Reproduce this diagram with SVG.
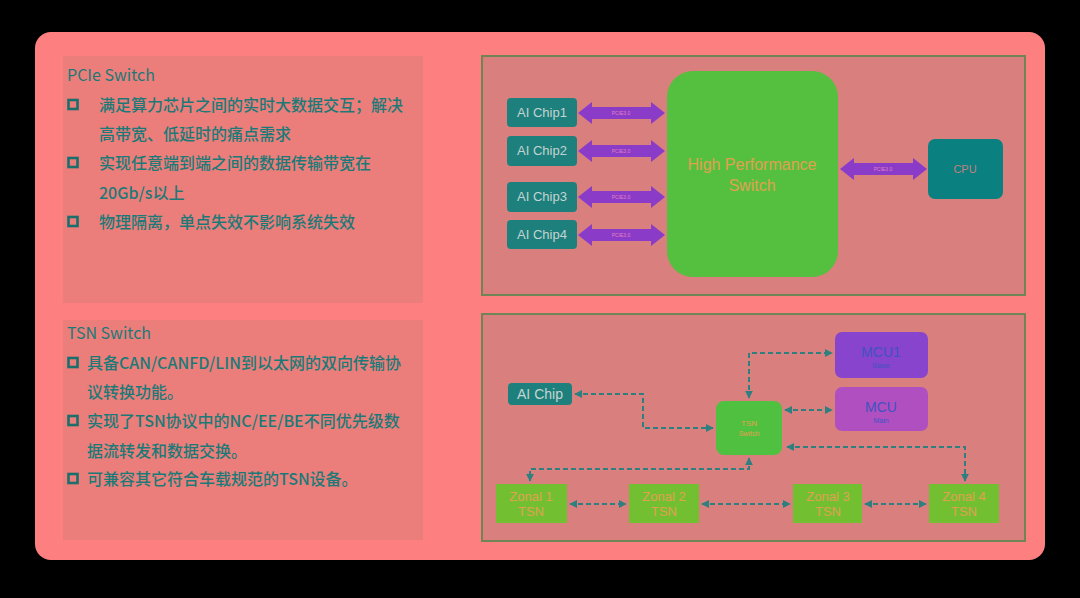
<svg xmlns="http://www.w3.org/2000/svg" width="1080" height="598" viewBox="0 0 1080 598">
<defs>
<style>
.txt{font-family:"Noto Sans CJK SC","Noto Sans",sans-serif;fill:#1b7a78;font-size:16px;font-weight:500}
.ttl{font-family:"Noto Sans CJK SC","Noto Sans",sans-serif;fill:#1b7a78;font-size:16px;font-weight:400}
.bul{fill:none;stroke:#1b6e6c;stroke-width:2.6}
.lpanel{fill:#eb7e7a}
.rpanel{fill:#d97f7d;stroke:#6f8556;stroke-width:2}
.chip{fill:#1e807c}
.chipt{font-family:"Liberation Sans",Arial,sans-serif;font-size:13px;fill:#c4d4d2;text-anchor:middle}
.parr{fill:#8a3cc8}
.plab{font-family:"Liberation Sans",Arial,sans-serif;font-size:5px;fill:#e080c0;text-anchor:middle}
.zonal{fill:#72c032}
.zt{font-family:"Liberation Sans",Arial,sans-serif;font-size:13px;fill:#e0a050;text-anchor:middle}
.dash{fill:none;stroke:#2e8080;stroke-width:2;stroke-dasharray:5 3}
</style>
<marker id="ah" viewBox="0 0 10 10" refX="9" refY="5" markerWidth="4" markerHeight="4" orient="auto-start-reverse">
<path d="M0,0 L10,5 L0,10 z" fill="#2e8080"/>
</marker>
<g id="parrow">
<path d="M0,0 L14,-11 L14,-6 L73,-6 L73,-11 L87,0 L73,11 L73,6 L14,6 L14,11 z"/>
</g>
</defs>
<rect x="0" y="0" width="1080" height="598" fill="#000"/>
<rect x="35" y="32" width="1010" height="528" rx="16" fill="#fe7f7f"/>

<g id="left-top">
<rect class="lpanel" x="63" y="56" width="360" height="247"/>
<text class="ttl" x="67" y="81">PCIe Switch</text>
<rect class="bul" x="68.5" y="100" width="9" height="9"/>
<text class="txt" x="99" y="111">满足算力芯片之间的实时大数据交互；解决</text>
<text class="txt" x="99" y="140">高带宽、低延时的痛点需求</text>
<rect class="bul" x="68.5" y="158" width="9" height="9"/>
<text class="txt" x="99" y="169">实现任意端到端之间的数据传输带宽在</text>
<text class="txt" x="99" y="199">20Gb/s以上</text>
<rect class="bul" x="68.5" y="217" width="9" height="9"/>
<text class="txt" x="99" y="228">物理隔离，单点失效不影响系统失效</text>
</g>

<g id="left-bottom">
<rect class="lpanel" x="63" y="320" width="360" height="220"/>
<text class="ttl" x="67" y="339">TSN Switch</text>
<rect class="bul" x="68.5" y="358" width="9" height="9"/>
<text class="txt" x="87" y="369">具备CAN/CANFD/LIN到以太网的双向传输协</text>
<text class="txt" x="87" y="398">议转换功能。</text>
<rect class="bul" x="68.5" y="416" width="9" height="9"/>
<text class="txt" x="87" y="427">实现了TSN协议中的NC/EE/BE不同优先级数</text>
<text class="txt" x="87" y="457">据流转发和数据交换。</text>
<rect class="bul" x="68.5" y="474" width="9" height="9"/>
<text class="txt" x="87" y="485">可兼容其它符合车载规范的TSN设备。</text>
</g>

<g id="pcie-panel">
<rect class="rpanel" x="482" y="56" width="543" height="239"/>
</g>

<g id="hp-switch">
<rect x="667" y="71" width="171" height="206" rx="26" fill="#55c03f"/>
<text x="752" y="170" font-family="Liberation Sans,Arial,sans-serif" font-size="16" fill="#e0a050" text-anchor="middle">High Performance</text>
<text x="752" y="191" font-family="Liberation Sans,Arial,sans-serif" font-size="16" fill="#e0a050" text-anchor="middle">Switch</text>
</g>

<g id="ai-chip1"><rect class="chip" x="507" y="98" width="70" height="29" rx="4"/><text class="chipt" x="542" y="117">AI Chip1</text></g>
<g id="ai-chip2"><rect class="chip" x="507" y="136" width="70" height="30" rx="4"/><text class="chipt" x="542" y="155">AI Chip2</text></g>
<g id="ai-chip3"><rect class="chip" x="507" y="182" width="70" height="30" rx="4"/><text class="chipt" x="542" y="201">AI Chip3</text></g>
<g id="ai-chip4"><rect class="chip" x="507" y="220" width="70" height="29" rx="4"/><text class="chipt" x="542" y="239">AI Chip4</text></g>

<g id="cpu">
<rect x="928" y="139" width="75" height="60" rx="7" fill="#0a8080"/>
<text x="965" y="173" font-family="Liberation Sans,Arial,sans-serif" font-size="11" fill="#c08080" text-anchor="middle">CPU</text>
</g>

<g id="pcie-links" class="parr">
<use href="#parrow" x="578" y="113"/>
<text class="plab" x="621" y="115">PCIE3.0</text>
<use href="#parrow" x="578" y="151"/>
<text class="plab" x="621" y="153">PCIE3.0</text>
<use href="#parrow" x="578" y="197"/>
<text class="plab" x="621" y="199">PCIE3.0</text>
<use href="#parrow" x="578" y="235"/>
<text class="plab" x="621" y="237">PCIE3.0</text>
<use href="#parrow" x="840" y="169"/>
<text class="plab" x="883" y="171">PCIE3.0</text>
</g>

<g id="tsn-panel">
<rect class="rpanel" x="482" y="314" width="543" height="227"/>
</g>

<g id="connectors">
<path class="dash" d="M575,394 H643 V428 H713" marker-start="url(#ah)" marker-end="url(#ah)"/>
<path class="dash" d="M749,398 V353 H832" marker-start="url(#ah)" marker-end="url(#ah)"/>
<path class="dash" d="M785,410 H832" marker-start="url(#ah)" marker-end="url(#ah)"/>
<path class="dash" d="M787,447 H965 V481" marker-start="url(#ah)" marker-end="url(#ah)"/>
<path class="dash" d="M749,458 V469 H530 V481" marker-start="url(#ah)" marker-end="url(#ah)"/>
<path class="dash" d="M570,504 H626" marker-start="url(#ah)" marker-end="url(#ah)"/>
<path class="dash" d="M702,504 H790" marker-start="url(#ah)" marker-end="url(#ah)"/>
<path class="dash" d="M865,504 H926" marker-start="url(#ah)" marker-end="url(#ah)"/>
</g>

<g id="ai-chip">
<rect class="chip" x="508" y="383" width="64" height="22" rx="4"/>
<text x="540" y="399" font-family="Liberation Sans,Arial,sans-serif" font-size="14" fill="#c4d4d2" text-anchor="middle">AI Chip</text>
</g>

<g id="tsn-switch">
<rect x="716" y="401" width="66" height="54" rx="8" fill="#50c040"/>
<text x="749" y="426" font-family="Liberation Sans,Arial,sans-serif" font-size="8" fill="#e0a050" text-anchor="middle">TSN</text>
<text x="749" y="436" font-family="Liberation Sans,Arial,sans-serif" font-size="7" fill="#e0a050" text-anchor="middle">Switch</text>
</g>

<g id="mcu1">
<rect x="835" y="332" width="93" height="46" rx="7" fill="#8844cc"/>
<text x="881" y="357" font-family="Liberation Sans,Arial,sans-serif" font-size="14" fill="#3f52c0" text-anchor="middle">MCU1</text>
<text x="881" y="368" font-family="Liberation Sans,Arial,sans-serif" font-size="7" fill="#3f52c0" text-anchor="middle">Slave</text>
</g>

<g id="mcu">
<rect x="835" y="387" width="93" height="44" rx="7" fill="#b050c0"/>
<text x="881" y="412" font-family="Liberation Sans,Arial,sans-serif" font-size="14" fill="#3f52c0" text-anchor="middle">MCU</text>
<text x="881" y="423" font-family="Liberation Sans,Arial,sans-serif" font-size="7" fill="#3f52c0" text-anchor="middle">Main</text>
</g>

<g id="zonal1"><rect class="zonal" x="496" y="484" width="71" height="39"/><text class="zt" x="531" y="501">Zonal 1</text><text class="zt" x="531" y="516">TSN</text></g>
<g id="zonal2"><rect class="zonal" x="629" y="484" width="70" height="39"/><text class="zt" x="664" y="501">Zonal 2</text><text class="zt" x="664" y="516">TSN</text></g>
<g id="zonal3"><rect class="zonal" x="793" y="484" width="69" height="39"/><text class="zt" x="828" y="501">Zonal 3</text><text class="zt" x="828" y="516">TSN</text></g>
<g id="zonal4"><rect class="zonal" x="929" y="484" width="70" height="39"/><text class="zt" x="964" y="501">Zonal 4</text><text class="zt" x="964" y="516">TSN</text></g>
</svg>
